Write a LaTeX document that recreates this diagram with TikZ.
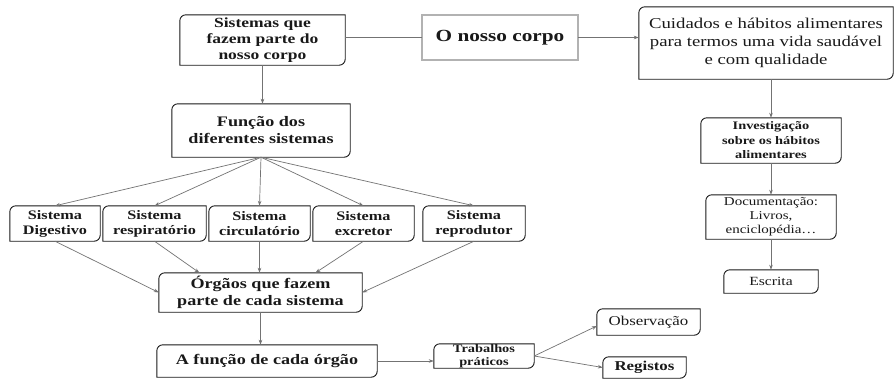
\documentclass[tikz,border=0pt]{standalone}
\usepackage{fontspec}
\setmainfont{Liberation Serif}[FakeStretch=1.25]
\usetikzlibrary{arrows.meta,calc}
\tikzset{
  lbl/.style={align=center, inner sep=0pt, text=black!90},
  frame/.style={draw=black!90, line width=0.9pt},
  conn/.style={draw=black!55, line width=0.7pt, -{Stealth[length=5pt,width=3.5pt]}},
  plainline/.style={draw=black!55, line width=0.7pt},
  sysbox/.style={lbl, minimum height=35pt, font=\fontsize{13}{15}\selectfont\bfseries},
}
\newcommand{\cframe}[1]{\draw[frame] (#1.north east) -- ([xshift=6pt]#1.north west) arc[start angle=90,end angle=180,radius=6pt] -- (#1.south west) -- ([xshift=-6pt]#1.south east) arc[start angle=270,end angle=360,radius=6pt] -- cycle;}
\begin{document}
\begin{tikzpicture}[x=1pt,y=-1pt]
\useasboundingbox[fill=white] (0,0) rectangle (894,381);

% nodes
\node[lbl, minimum width=165pt, minimum height=50pt, font=\fontsize{14}{16}\selectfont\bfseries] (sist) at (262.5,40) {Sistemas que\\fazem parte do\\nosso corpo};
\node[lbl, minimum width=156pt, minimum height=45pt, font=\fontsize{17}{20}\selectfont\bfseries] (corpo) at (500,37.5) {O nosso corpo};
\node[lbl, minimum width=254pt, minimum height=72pt, font=\fontsize{15}{18}\selectfont] (cuid) at (766,43) {Cuidados e hábitos alimentares\\para termos uma vida saudável\\e com qualidade};
\node[lbl, minimum width=178pt, minimum height=53pt, font=\fontsize{14.5}{17}\selectfont\bfseries] (func) at (261,130.5) {Função dos\\diferentes sistemas};

\node[sysbox, minimum width=90pt] (dig) at (55,223.5) {Sistema\\Digestivo};
\node[sysbox, minimum width=103pt] (resp) at (154.5,223.5) {Sistema\\respiratório};
\node[sysbox, minimum width=101pt] (circ) at (259.5,223.5) {Sistema\\circulatório};
\node[sysbox, minimum width=101pt] (excr) at (363.5,223.5) {Sistema\\excretor};
\node[sysbox, minimum width=102pt] (repr) at (474,223.5) {Sistema\\reprodutor};

\node[lbl, minimum width=203pt, minimum height=39pt, font=\fontsize{14.5}{17}\selectfont\bfseries] (org) at (260.5,292.5) {Órgãos que fazem\\parte de cada sistema};
\node[lbl, minimum width=220pt, minimum height=32pt, font=\fontsize{14.5}{17}\selectfont\bfseries] (afun) at (267,361) {A função de cada órgão};
\node[lbl, minimum width=100pt, minimum height=24pt, font=\fontsize{11.5}{13}\selectfont\bfseries] (trab) at (484,356) {Trabalhos\\práticos};
\node[lbl, minimum width=103pt, minimum height=26pt, font=\fontsize{13.5}{16}\selectfont] (obs) at (648.5,322) {Observação};
\node[lbl, minimum width=83pt, minimum height=21pt, font=\fontsize{13.5}{16}\selectfont\bfseries] (reg) at (644.5,367.5) {Registos};

\node[lbl, minimum width=140pt, minimum height=45pt, font=\fontsize{11.5}{14.5}\selectfont\bfseries] (inv) at (771,140.5) {Investigação\\sobre os hábitos\\alimentares};
\node[lbl, minimum width=130pt, minimum height=44pt, font=\fontsize{12}{14}\selectfont] (doc) at (771,217) {Documentação:\\Livros,\\enciclopédia…};
\node[lbl, minimum width=94pt, minimum height=23pt, font=\fontsize{12.5}{15}\selectfont] (esc) at (771,281.5) {Escrita};

% frames
\foreach \n in {sist,cuid,func,dig,resp,circ,excr,repr,org,afun,trab,obs,reg,inv,doc,esc}{\cframe{\n}}
\draw[draw=black!30, line width=2.2pt] (corpo.north west) rectangle (corpo.south east);

% connectors
\draw[plainline] (corpo.west -| sist.east) -- (corpo.west);
\draw[conn] (corpo.east) -- (corpo.east -| cuid.west);
\draw[conn] (sist.south) -- (sist.south |- func.north);
\foreach \n in {dig,resp,circ,excr,repr}{\draw[conn] (func.south) -- (\n.north);}
\draw[conn] (dig.south) -- (org.west);
\draw[conn] (resp.south) -- ($(org.north west)!0.2!(org.north east)$);
\draw[conn] (circ.south) -- (circ.south |- org.north);
\draw[conn] (excr.south) -- ($(org.north west)!0.77!(org.north east)$);
\draw[conn] (repr.south) -- (org.east);
\draw[conn] (org.south) -- (org.south |- afun.north);
\draw[conn] (afun.east) -- (afun.east -| trab.west);
\draw[conn] (trab.east) -- ([yshift=-4pt]obs.west);
\draw[conn] (trab.east) -- (reg.west);
\draw[conn] (inv.north |- cuid.south) -- (inv.north);
\draw[conn] (inv.south) -- (doc.north);
\draw[conn] (doc.south) -- (esc.north);
\end{tikzpicture}
\end{document}
